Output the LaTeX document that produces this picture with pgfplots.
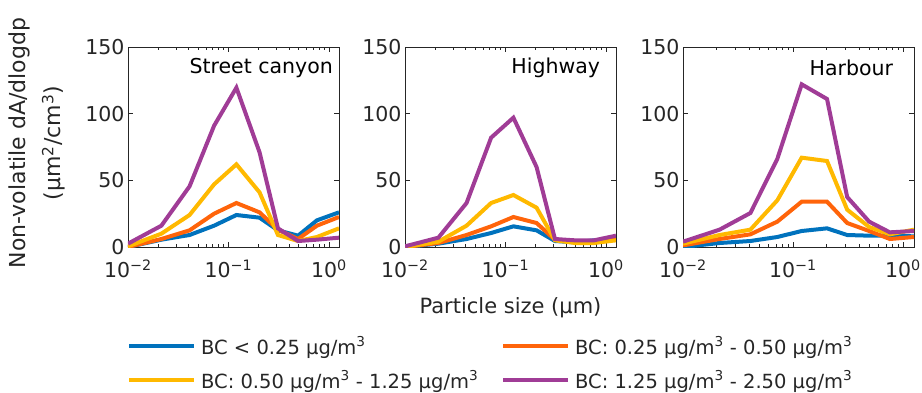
\documentclass[border=0pt]{standalone}
\usepackage{pgfplots}
\pgfplotsset{compat=1.18}
\usepackage{fontspec}
\setmainfont{DejaVu Sans}
\definecolor{cblue}{RGB}{0,114,189}
\definecolor{corange}{RGB}{255,100,10}
\definecolor{cyellow}{RGB}{255,185,0}
\definecolor{cpurple}{RGB}{160,60,150}
\definecolor{axgray}{RGB}{38,38,38}
\newcommand{\sq}{\textsuperscript{2}}
\newcommand{\cu}{\textsuperscript{3}}
\pgfplotsset{
  every axis plot/.append style={line width=4pt, mark=none},
  every tick/.style={color=axgray, line width=0.8pt},
}
\tikzset{ttl/.style={font=\fontsize{20.5}{24}\selectfont, anchor=east, inner sep=0pt, text=black}}
\begin{document}
\begin{tikzpicture}
\useasboundingbox (0pt,0pt) rectangle (922pt,-392pt);
% ---------- Street canyon ----------
\begin{axis}[scale only axis, height=200pt, width=211pt, at={(128pt,-247pt)}, anchor=south west,
    xmode=log, xmin=0.01, xmax=1.26, ymin=0, ymax=150,
    ytick={0,50,100,150}, yticklabels={0,50,100,150},
    xtick={0.01,0.1,1},
    xticklabels={10\textsuperscript{−2},10\textsuperscript{−1},10\textsuperscript{0}},
    minor xtick={0.02,0.03,0.04,0.05,0.06,0.07,0.08,0.09,0.2,0.3,0.4,0.5,0.6,0.7,0.8,0.9},
    tick align=inside, xtick pos=both, ytick pos=both,
    xticklabel pos=bottom, yticklabel pos=left,
    major tick length=5pt, minor tick length=3pt,
    axis line style={color=axgray, line width=0.8pt},
    ticklabel style={font=\fontsize{20.5}{24}\selectfont, color=axgray},
    xticklabel style={yshift=-9pt},
  ylabel={Non-volatile dA/dlogdp\\(µm\sq/cm\cu)},
  ylabel style={at={(rel axis cs:-0.43,0.52)}, anchor=center, align=center,
    font=\fontsize{22}{35}\selectfont, color=axgray},
  legend image code/.code={\draw[#1, line width=4pt] (0pt,0.35em) -- (65pt,0.35em);},
  legend columns=2,
  legend style={at={(rel axis cs:-0.005,-0.46)}, anchor=north west, draw=none, fill=none,
    inner sep=0pt, row sep=14pt, font=\fontsize{19.5}{23}\selectfont,
    nodes={inner sep=0pt, text height=15pt, text depth=5pt, text=axgray},
    /tikz/every odd column/.append style={column sep=5pt}},
]
\addplot[cblue] coordinates {(0.01,0) (0.0215,5.5) (0.041,9) (0.072,16) (0.12,24) (0.204,22) (0.311,12.5) (0.493,8.5) (0.76,20) (1.26,26)};
\addlegendentry{\makebox[300pt][l]{BC < 0.25 µg/m\cu}}
\addplot[corange] coordinates {(0.01,0) (0.0215,6) (0.041,12.5) (0.072,25) (0.12,33) (0.204,26) (0.311,13) (0.493,6) (0.76,16) (1.26,22.5)};
\addlegendentry{BC: 0.25 µg/m\cu{} - 0.50 µg/m\cu}
\addplot[cyellow] coordinates {(0.01,0.5) (0.0215,10) (0.041,24) (0.072,47) (0.12,62) (0.204,41) (0.311,9) (0.493,4.5) (0.76,7.5) (1.26,14)};
\addlegendentry{\makebox[300pt][l]{BC: 0.50 µg/m\cu{} - 1.25 µg/m\cu}}
\addplot[cpurple] coordinates {(0.01,2.5) (0.0215,16) (0.041,45.5) (0.072,91) (0.12,119.5) (0.204,71) (0.311,14) (0.493,4.5) (0.76,5.5) (1.26,7)};
\addlegendentry{BC: 1.25 µg/m\cu{} - 2.50 µg/m\cu}
\node[ttl] at (rel axis cs:0.972,0.893) {Street canyon};
\end{axis}
% ---------- Highway ----------
\begin{axis}[scale only axis, height=200pt, width=211pt, at={(405pt,-247pt)}, anchor=south west,
    xmode=log, xmin=0.01, xmax=1.26, ymin=0, ymax=150,
    ytick={0,50,100,150}, yticklabels={0,50,100,150},
    xtick={0.01,0.1,1},
    xticklabels={10\textsuperscript{−2},10\textsuperscript{−1},10\textsuperscript{0}},
    minor xtick={0.02,0.03,0.04,0.05,0.06,0.07,0.08,0.09,0.2,0.3,0.4,0.5,0.6,0.7,0.8,0.9},
    tick align=inside, xtick pos=both, ytick pos=both,
    xticklabel pos=bottom, yticklabel pos=left,
    major tick length=5pt, minor tick length=3pt,
    axis line style={color=axgray, line width=0.8pt},
    ticklabel style={font=\fontsize{20.5}{24}\selectfont, color=axgray},
    xticklabel style={yshift=-9pt},
  xlabel={Particle size (µm)},
  xlabel style={at={(rel axis cs:0.5,-0.305)}, anchor=center,
    font=\fontsize{21}{25}\selectfont, color=axgray},
]
\addplot[cblue] coordinates {(0.01,0) (0.0215,2.5) (0.041,6) (0.072,10.5) (0.12,15.5) (0.204,12.5) (0.311,4.5) (0.493,3.5) (0.76,5) (1.26,5.5)};
\addplot[corange] coordinates {(0.01,0) (0.0215,3) (0.041,9) (0.072,15.5) (0.12,22.5) (0.204,18) (0.311,5.5) (0.493,4.5) (0.76,4) (1.26,7)};
\addplot[cyellow] coordinates {(0.01,0) (0.0215,4) (0.041,16) (0.072,33) (0.12,39) (0.204,29.5) (0.311,5) (0.493,3) (0.76,3) (1.26,5)};
\addplot[cpurple] coordinates {(0.01,0.5) (0.0215,7) (0.041,33) (0.072,82) (0.12,97) (0.204,60) (0.311,6) (0.493,5) (0.76,5) (1.26,8.5)};
\node[ttl] at (rel axis cs:0.925,0.895) {Highway};
\end{axis}
% ---------- Harbour ----------
\begin{axis}[scale only axis, height=200pt, width=231pt, at={(683pt,-247pt)}, anchor=south west,
    xmode=log, xmin=0.01, xmax=1.26, ymin=0, ymax=150,
    ytick={0,50,100,150}, yticklabels={0,50,100,150},
    xtick={0.01,0.1,1},
    xticklabels={10\textsuperscript{−2},10\textsuperscript{−1},10\textsuperscript{0}},
    minor xtick={0.02,0.03,0.04,0.05,0.06,0.07,0.08,0.09,0.2,0.3,0.4,0.5,0.6,0.7,0.8,0.9},
    tick align=inside, xtick pos=both, ytick pos=both,
    xticklabel pos=bottom, yticklabel pos=left,
    major tick length=5pt, minor tick length=3pt,
    axis line style={color=axgray, line width=0.8pt},
    ticklabel style={font=\fontsize{20.5}{24}\selectfont, color=axgray},
    xticklabel style={yshift=-9pt},
]
\addplot[cblue] coordinates {(0.01,0) (0.0215,3) (0.041,4.5) (0.072,7.5) (0.12,12) (0.204,14) (0.311,9) (0.493,8.5) (0.76,8.5) (1.26,8)};
\addplot[corange] coordinates {(0.01,1.2) (0.0215,6) (0.041,9.5) (0.072,19) (0.12,34) (0.204,34) (0.311,18) (0.493,12) (0.76,6) (1.26,7.5)};
\addplot[cyellow] coordinates {(0.01,2.5) (0.0215,9) (0.041,13) (0.072,35) (0.12,67) (0.204,64.5) (0.311,28) (0.493,15) (0.76,9.5) (1.26,13)};
\addplot[cpurple] coordinates {(0.01,4) (0.0215,13) (0.041,25.5) (0.072,66) (0.12,122) (0.204,111) (0.311,37.5) (0.493,19) (0.76,11) (1.26,12)};
\node[ttl] at (rel axis cs:0.91,0.895) {Harbour};
\end{axis}
\end{tikzpicture}
\end{document}
